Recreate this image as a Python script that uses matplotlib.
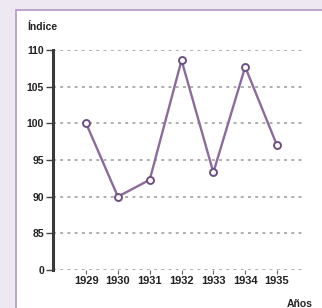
import matplotlib
matplotlib.use("Agg")
import matplotlib.pyplot as plt
from matplotlib.patches import Rectangle

plt.rcParams["font.family"] = ["Liberation Sans", "DejaVu Sans"]

# datos del gráfico
anios = [1929, 1930, 1931, 1932, 1933, 1934, 1935]
indice = [100, 90, 92.3, 108.6, 93.3, 107.7, 97.0]

# el eje está cortado: el "0" se dibuja en la posición 80
y_ticks = [80, 85, 90, 95, 100, 105, 110]
y_labels = ["0", "85", "90", "95", "100", "105", "110"]

linea = "#8c6b9c"

fig = plt.figure(figsize=(3.22, 3.08), dpi=100)
fig.patch.set_facecolor("#ede8f1")

# fondo: panel blanco con borde morado
bg = fig.add_axes([0, 0, 1, 1], zorder=-1)
bg.set_xlim(0, 322)
bg.set_ylim(308, 0)
bg.axis("off")
bg.add_patch(Rectangle((16, 10), 320, 310, facecolor="white",
                       edgecolor="#b596c4", lw=1.2))

ax = fig.add_axes([53 / 322, 38 / 308, 252 / 322, 220 / 308])
ax.set_facecolor("none")
ax.set_xlim(1927.96, 1935.88)
ax.set_ylim(80, 110)

for y in y_ticks:
    ax.axhline(y, color="#a8a8a8", lw=1.3, ls=(0, (1.6, 2.4)), zorder=1)

ax.plot(anios, indice, color=linea, lw=1.7, zorder=3,
        marker="o", markersize=5, markerfacecolor="white",
        markeredgecolor="#6e5080", markeredgewidth=1.4)

for s in ["top", "right", "bottom"]:
    ax.spines[s].set_visible(False)
ax.spines["left"].set_color("#3a3a3a")
ax.spines["left"].set_linewidth(2.2)

ax.set_yticks(y_ticks)
ax.set_yticklabels(y_labels, fontsize=7.5, fontweight="bold", color="#222222")
ax.tick_params(axis="y", length=5, width=1.0, color="#444444", pad=1.5)

ax.set_xticks(anios)
ax.set_xticklabels([str(a) for a in anios], fontsize=8, fontweight="bold", color="#222222")
ax.tick_params(axis="x", length=3, width=0.8, color="#666666", pad=1.5, direction="out")

fig.text(27 / 322, 1 - 27 / 308, "Índice", fontsize=7.5, fontweight="bold",
         color="#222222", ha="left", va="center")
fig.text(300 / 322, 1 - 304 / 308, "Años", fontsize=7.5, fontweight="bold",
         color="#222222", ha="center", va="center")

fig.savefig("out.png", dpi=100, facecolor=fig.get_facecolor())
